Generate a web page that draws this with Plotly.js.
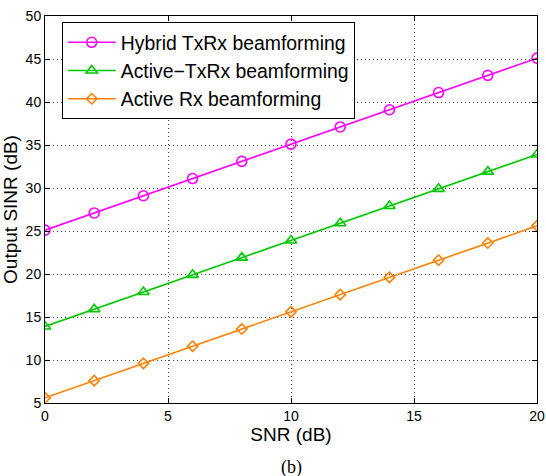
<!DOCTYPE html>
<html>
<head>
<meta charset="utf-8">
<script src="https://cdn.plot.ly/plotly-3.0.1.min.js"></script>
<style>html,body{margin:0;padding:0;background:#fff;}#chart{width:546px;height:476px;}</style>
</head>
<body>
<div id="chart"></div>
<script>
const snr = [0, 2, 4, 6, 8, 10, 12, 14, 16, 18, 20];
const hybridTxRx = [25.1, 27.1, 29.1, 31.1, 33.1, 35.1, 37.1, 39.1, 41.1, 43.1, 45.1];
const activeTxRx = [13.9, 15.9, 17.9, 19.9, 21.9, 23.9, 25.9, 27.9, 29.9, 31.9, 33.9];
const activeRx = [5.6, 7.6, 9.6, 11.6, 13.6, 15.6, 17.6, 19.6, 21.6, 23.6, 25.6];
const seriesNames = ["Hybrid TxRx beamforming", "Active\u2212TxRx beamforming", "Active Rx beamforming"];
const xTicks = [0, 5, 10, 15, 20];
const yTicks = [5, 10, 15, 20, 25, 30, 35, 40, 45, 50];

const font = "Liberation Sans, Arial, Helvetica, sans-serif";
function tr(y, name, color, symbol, size) {
  return {
    x: snr, y: y, name: name, type: "scatter", mode: "lines+markers",
    line: {color: color, width: 1.6},
    marker: {symbol: symbol, size: size, color: color, line: {color: color, width: 1.6}}
  };
}
const data = [
  tr(hybridTxRx, seriesNames[0], "#ff00ff", "circle-open", 10),
  tr(activeTxRx, seriesNames[1], "#00c800", "triangle-up-open", 10),
  tr(activeRx, seriesNames[2], "#ff8000", "diamond-open", 8)
];
const axisCommon = {
  showline: true, linecolor: "#000", linewidth: 1, mirror: "ticks",
  ticks: "inside", ticklen: 5, tickcolor: "#000", tickwidth: 1,
  showgrid: true, gridcolor: "#444", gridwidth: 1, griddash: "1px,3px",
  zeroline: false, tickfont: {family: font, size: 14, color: "#000"}
};
const layout = {
  width: 546, height: 476,
  margin: {l: 45, r: 9, t: 16, b: 73},
  paper_bgcolor: "#fff", plot_bgcolor: "#fff",
  font: {family: font, color: "#000"},
  showlegend: true,
  legend: {
    x: 0.034, y: 0.984, xanchor: "left", yanchor: "top",
    bgcolor: "#fff", bordercolor: "#000", borderwidth: 1,
    font: {family: font, size: 19.4, color: "#000"},
    itemwidth: 48, tracegroupgap: 0
  },
  xaxis: Object.assign({}, axisCommon, {
    range: [0, 20], tickvals: xTicks, ticktext: xTicks.map(String),
    title: {text: "SNR (dB)", font: {family: font, size: 19, color: "#000"}, standoff: 4}
  }),
  yaxis: Object.assign({}, axisCommon, {
    range: [5, 50], tickvals: yTicks, ticktext: yTicks.map(String),
    title: {text: "Output SINR (dB)", font: {family: font, size: 19, color: "#000"}, standoff: 4}
  }),
  annotations: [{
    text: "(b)", xref: "paper", yref: "paper", x: 0.5, y: -0.167,
    xanchor: "center", yanchor: "middle", showarrow: false,
    font: {family: "Liberation Serif, Times New Roman, serif", size: 18, color: "#000"}
  }]
};
Plotly.newPlot("chart", data, layout, {displayModeBar: false, staticPlot: true});
</script>
</body>
</html>
